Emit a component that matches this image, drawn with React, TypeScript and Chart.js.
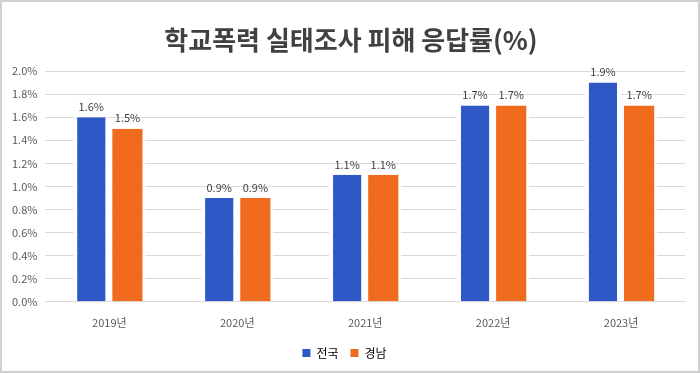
import React, { useEffect, useRef } from "react";
import { Chart, registerables } from "chart.js";

Chart.register(...registerables);

const categories = ["2019년", "2020년", "2021년", "2022년", "2023년"];
const nationalValues = [1.6, 0.9, 1.1, 1.7, 1.9];
const gyeongnamValues = [1.5, 0.9, 1.1, 1.7, 1.7];
const seriesNames = ["전국", "경남"];
const titleText = "학교폭력 실태조사 피해 응답률(%)";

const FONT = "'Noto Sans CJK KR', 'Noto Sans', sans-serif";

const labelPlugin = {
  id: "barLabels",
  afterDatasetsDraw(chart: any) {
    const ctx = chart.ctx;
    ctx.save();
    ctx.font = `11px ${FONT}`;
    ctx.fillStyle = "#404040";
    ctx.textAlign = "center";
    ctx.textBaseline = "bottom";
    chart.data.datasets.forEach((ds: any, di: number) => {
      const meta = chart.getDatasetMeta(di);
      meta.data.forEach((bar: any, i: number) => {
        ctx.fillText(ds.data[i].toFixed(1) + "%", bar.x, bar.y - 5);
      });
    });
    ctx.restore();
  },
};

const titlePlugin = {
  id: "customTitle",
  afterDraw(chart: any) {
    const ctx = chart.ctx;
    ctx.save();
    ctx.font = `bold 26px ${FONT}`;
    ctx.fillStyle = "#404040";
    ctx.textAlign = "center";
    ctx.textBaseline = "middle";
    ctx.fillText(titleText, 351, 40);
    ctx.restore();
  },
};

export default function App() {
  const ref = useRef<HTMLCanvasElement>(null);
  useEffect(() => {
    const chart = new Chart(ref.current!, {
      type: "bar",
      data: {
        labels: categories,
        datasets: [
          {
            label: seriesNames[0],
            data: nationalValues,
            backgroundColor: "#2F58C6",
            borderColor: "#ffffff",
            borderWidth: { left: 4, right: 4, top: 0, bottom: 0 },
            borderSkipped: false,
          },
          {
            label: seriesNames[1],
            data: gyeongnamValues,
            backgroundColor: "#F06B1E",
            borderColor: "#ffffff",
            borderWidth: { left: 3, right: 3, top: 0, bottom: 0 },
            borderSkipped: false,
          },
        ],
      },
      options: {
        responsive: false,
        animation: false,
        layout: { padding: { top: 71, left: 4, right: 15, bottom: 4 } },
        datasets: { bar: { categoryPercentage: 0.565, barPercentage: 1 } },
        scales: {
          x: {
            grid: { display: false },
            border: { color: "#d9d9d9" },
            ticks: { color: "#595959", font: { family: FONT, size: 11 }, padding: 6 },
          },
          y: {
            min: 0,
            max: 2.0,
            border: { display: false },
            grid: { color: "#d9d9d9", drawTicks: false },
            ticks: {
              stepSize: 0.2,
              padding: 8,
              color: "#595959",
              font: { family: FONT, size: 11 },
              callback: (v: any) => Number(v).toFixed(1) + "%",
            },
          },
        },
        plugins: {
          title: { display: false },
          tooltip: { enabled: false },
          legend: {
            position: "bottom",
            labels: {
              boxWidth: 8,
              boxHeight: 8,
              color: "#595959",
              font: { family: FONT, size: 12 },
              padding: 12,
              generateLabels: (c: any) =>
                c.data.datasets.map((ds: any, i: number) => ({
                  text: ds.label,
                  fillStyle: ds.backgroundColor,
                  strokeStyle: ds.backgroundColor,
                  lineWidth: 0,
                  datasetIndex: i,
                  hidden: false,
                })),
            },
          },
        },
      },
      plugins: [labelPlugin, titlePlugin],
    });
    return () => chart.destroy();
  }, []);
  return (
    <div style={{ position: "fixed", left: 0, top: 0, width: 700, height: 373, background: "#fff" }}>
      <canvas ref={ref} width={700} height={373} style={{ display: "block" }} />
      <div
        style={{
          position: "absolute",
          left: 0,
          top: 0,
          width: 700,
          height: 373,
          boxSizing: "border-box",
          border: "2px solid #d0d0d0",
          pointerEvents: "none",
        }}
      />
    </div>
  );
}
